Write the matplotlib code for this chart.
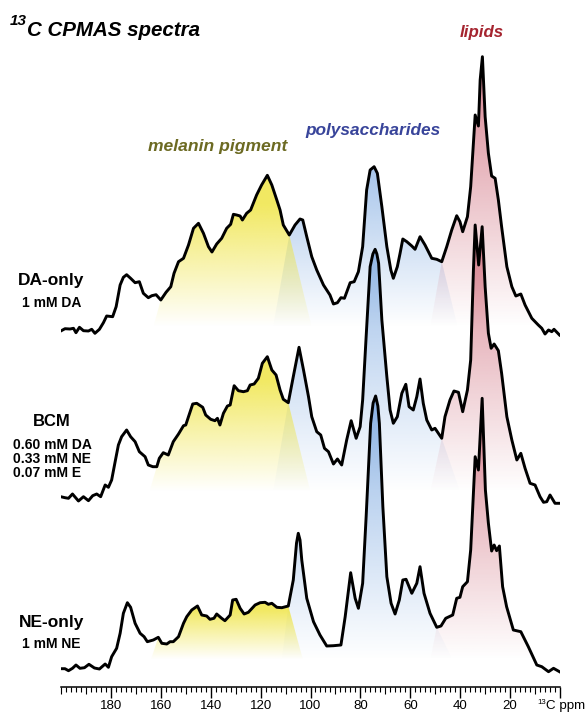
#!/usr/bin/env python3

import matplotlib as mpl
import matplotlib.pyplot as plt
import numpy as np
from matplotlib.patches import Polygon
from matplotlib.ticker import MultipleLocator

# chemical shift (ppm) and intensity
da_ppm = [200.1, 198.4, 196.4, 195.0, 194.0, 192.6, 191.0, 189.0, 187.7, 186.4, 184.6, 183.0, 181.7, 179.3, 177.9,
          176.3, 175.0, 173.7, 172.1, 170.3, 168.6, 167.0, 165.0, 163.6, 161.9, 160.0, 157.9, 156.0, 154.7, 152.9,
          150.9, 148.9, 146.9, 144.9, 142.9, 140.9, 139.5, 137.6, 135.6, 133.6, 132.0, 130.9, 129.6, 128.2, 127.3,
          125.6, 124.0, 121.6, 119.6, 117.3, 115.5, 113.5, 112.2, 110.9, 108.5, 106.2, 104.2, 103.1, 101.5, 99.5,
          97.5, 94.8, 92.2, 90.8, 89.2, 87.8, 86.4, 84.1, 82.5, 80.8, 79.1, 77.5, 76.1, 74.5, 73.2, 71.4, 69.4, 67.8,
          66.8, 65.2, 64.1, 63.0, 61.4, 59.4, 58.1, 56.1, 54.1, 51.4, 49.4, 47.4, 45.4, 43.4, 41.4, 40.1, 39.0, 37.1,
          35.8, 34.0, 32.7, 32.0, 31.1, 30.0, 28.7, 27.4, 26.0, 24.7, 23.4, 21.3, 19.3, 17.7, 15.7, 14.0, 11.3, 8.7,
          7.3, 6.0, 4.6, 3.3, 2.4, 0.2]
da_int = [4, 6.3, 6, 6.7, 2.3, 7.7, 4.3, 4, 5.7, 1.7, 5.7, 12.3, 19, 18.3, 28.3,
          50, 57.7, 60.3, 56.7, 52.3, 53.3, 41.7, 37.3, 39.3, 40.3, 35, 42.7, 48.3, 61.7, 73.3,
          76.7, 90, 106.7, 111.7, 101.7, 88.3, 83, 91, 96.7, 106.7, 110.7, 120.7, 120, 119, 115,
          121.7, 125, 140, 150, 159.7, 150, 135, 125, 110, 100, 110, 116, 115, 98.3, 78.3,
          65, 50, 40, 31, 32.3, 37.3, 36.7, 52.3, 53.3, 63.3, 88.3, 145, 165, 168.3, 161.7, 128.3, 88.3, 65,
          56.7, 68.3, 81.7, 96, 93.3, 89, 85.7, 98.3, 90, 76.7, 75.7, 73.3, 88.3, 105, 119.3, 113.3, 103.3, 118.3,
          148.3, 220, 209, 255, 278.3, 218.3, 181.7, 159, 156.7, 135, 108.3, 68.3, 48.3, 39, 41, 30, 16.7, 10,
          6.7, 1, 5, 3.3, 5.7, 0]

bcm_ppm = [200.1, 198.4, 197.0, 195.4, 193.0, 191.0, 189.0, 187.3, 185.7, 184.1, 182.3, 181.0, 179.7, 178.3, 177.0,
           175.7, 173.7, 172.1, 170.3, 168.6, 166.3, 165.0, 163.2, 161.6, 160.6, 159.0, 157.0, 155.0, 152.9, 150.9,
           150.0, 148.9, 147.2, 145.6, 143.2, 142.0, 140.0, 138.3, 137.3, 136.3, 134.9, 133.3, 132.2, 130.6, 128.9,
           126.9, 125.3, 124.2, 122.6, 120.9, 119.3, 117.3, 115.5, 113.8, 112.2, 110.9, 108.9, 106.9, 104.6, 102.8,
           100.8, 99.5, 97.5, 95.9, 94.4, 92.8, 90.8, 89.2, 87.5, 85.5, 83.7, 81.7, 80.1, 79.1, 77.7, 76.1, 75.0, 74.1,
           73.4, 72.7, 71.4, 69.4, 68.1, 66.8, 65.2, 63.4, 61.8, 60.5, 58.8, 57.4, 56.1, 54.8, 53.4, 51.4, 50.1, 47.4,
           46.1, 44.1, 42.5, 40.7, 39.0, 37.1, 35.8, 34.7, 34.0, 32.6, 31.2, 30.0, 28.7, 27.6, 26.4, 24.7, 23.4, 21.3,
           19.3, 17.3, 15.7, 14.0, 12.0, 10.0, 8.0, 6.6, 5.3, 4.0, 2.0, 0.2]
bcm_int = [-1.7, -2.7, -3.3, 1, -6, -1.7, -5.7, -0.7, 1, -1.7, 10, 7.7, 15, 33.3, 50,
           58.3, 65, 58.3, 53.3, 43.3, 38.3, 30, 28.3, 28.3, 36.7, 42.3, 40, 53.3, 61, 69.3,
           70, 78.3, 91, 91.7, 87.7, 80, 75.7, 74.3, 76.7, 70, 81.7, 89, 90, 109.3, 104.3,
           103.3, 104.3, 110, 111, 116.7, 131.7, 138.3, 125, 120, 105, 95.7, 92.3, 118.3, 147.7, 125,
           98.3, 78.3, 63.3, 60, 46.7, 43.3, 31, 36, 30, 55, 74.3, 56.7, 68.3, 95, 158.3, 228.3, 241, 245.7,
           241, 231.7, 175, 118.3, 85, 71.7, 78.3, 101.7, 110.7, 88.3, 85, 98.3, 116, 91.7, 75, 65, 66.7, 56.7,
           78.3, 95, 104, 102.7, 83.3, 105, 135, 225, 270, 230, 268.3, 208.3, 161.7, 146.7, 151, 144.3, 121.7, 78.3,
           55, 35, 41.7, 26.7, 11.7, 10, -1.7, -7.3, -6.7, 0, -8.3, -8.3]

ne_ppm = [200.1, 198.4, 197.0, 195.4, 194.0, 192.4, 190.6, 188.8, 186.6, 184.6, 182.3, 181.0, 179.7, 177.7, 176.3,
          175.0, 173.4, 172.1, 170.3, 168.3, 166.7, 165.4, 163.0, 161.0, 159.6, 157.6, 156.3, 155.0, 152.9, 150.9,
          149.6, 147.6, 145.3, 143.6, 141.6, 140.3, 138.7, 137.6, 135.6, 134.3, 132.2, 131.2, 129.8, 128.2, 126.6,
          124.9, 122.2, 120.2, 118.2, 116.9, 115.5, 113.5, 111.5, 108.9, 106.9, 105.6, 104.9, 104.2, 103.5, 101.5,
          98.8, 96.2, 93.5, 90.8, 87.8, 86.1, 83.9, 82.1, 80.8, 79.1, 77.7, 75.9, 74.9, 73.9, 73.0, 72.4, 71.0, 69.4,
          67.7, 66.1, 64.4, 63.0, 61.7, 59.4, 57.4, 56.1, 54.5, 52.1, 49.4, 47.7, 45.8, 43.0, 41.4, 40.1, 39.0, 37.1,
          35.8, 34.0, 32.7, 31.2, 29.9, 28.7, 27.4, 26.4, 25.4, 24.3, 23.0, 21.4, 18.7, 15.7, 12.7, 9.3, 7.3, 4.6,
          2.6, 0.2]
ne_int = [-0.7, -0.7, -2.7, -0.3, 3, -0.3, 0.3, 3.7, 0, -1, 4, 0.7, 11.3, 19.7, 34.7,
          54.7, 65.3, 60.7, 44.7, 34.7, 31.3, 26.3, 28, 30.7, 24.7, 24, 26.3, 26.3, 31.3, 44.7,
          51.3, 58, 62, 53, 52, 48.7, 49.7, 54, 49.7, 47.3, 53, 68, 68.7, 59.7, 54,
          55.7, 63, 65.3, 65.7, 63.7, 64.7, 60.7, 60.3, 62, 88, 125, 134.7, 128, 108, 69.7,
          46.3, 33, 22, 22.3, 23, 51.3, 95.3, 69.7, 59.7, 84.7, 151.3, 244.7, 265, 272, 262, 244.7, 161.3, 91.3,
          64.7, 54, 68, 88, 88.7, 74.7, 84.7, 101.3, 74.7, 54.7, 40.7, 42, 49.7, 53, 69.7, 70.7, 81.3, 86.3,
          118, 211.3, 198, 269.7, 178, 144.7, 117, 123, 117.3, 122, 81.3, 61.3, 38, 36.3, 21.3, 3, 1.3, -3.7,
          -0.3, -3.7]

da_bounds = [160.0, 108.5, 47.4]
bcm_bounds = [161.6, 108.9, 47.4]
ne_bounds = [161.0, 108.9, 49.4]
tick_ppm = [0, 20, 40, 60, 80, 100, 120, 140, 160, 180]
tick_text = ["", "20", "40", "60", "80", "100", "120", "140", "160", "180"]

W, H = 585, 713
AXIS_Y = 687
YELLOW, BLUE, RED = "#efe440", "#6c9edd", "#c4495c"


def shade(ax, ppm, inten, base, left, right, foot_left, foot_right, floor, top, colour, strength, power=1.0):
    # a vertical fade, cut to the area under one stretch of the trace
    ppm = np.array(ppm)
    inten = np.array(inten)
    keep = (ppm <= left) & (ppm >= right)
    verts = list(zip(ppm[keep], inten[keep] + base))
    verts += [(foot_right, base + floor), (foot_left, base + floor)]
    patch = Polygon(verts, closed=True, transform=ax.transData, fc="none", ec="none")
    ax.add_patch(patch)

    height = np.linspace(290, floor, 300)[:, None]
    rgba = np.ones((300, 1, 4))
    rgba[..., :3] = mpl.colors.to_rgb(colour)
    rgba[..., 3:] = (np.clip((height - floor) / (top - floor), 0, 1) ** power * strength)[..., None]
    im = ax.imshow(rgba, extent=(max(left, foot_left) + 5, min(right, foot_right) - 5, base + floor, base + 290),
                   aspect="auto", interpolation="bilinear", zorder=1)
    im.set_clip_path(patch)


def label(x, y, s, **kw):
    kw.setdefault("family", "Liberation Sans")
    kw.setdefault("weight", "bold")
    kw.setdefault("va", "center")
    fig.text(x / W, 1 - y / H, s, **kw)


fig = plt.figure(figsize=(W / 100, H / 100), dpi=100)
ax = fig.add_axes([61 / W, (H - AXIS_Y) / H, 499 / W, AXIS_Y / H])
ax.patch.set_alpha(0)

spectra = [
    (da_ppm, da_int, 352, da_bounds, (99.5, 115.0, 41.0, 52.0), 8, 130, 200),
    (bcm_ppm, bcm_int, 192, bcm_bounds, (100.0, 115.0, 40.0, 52.0), 3, 115, 270),
    (ne_ppm, ne_int, 19, ne_bounds, (103.0, 111.5, 43.0, 52.0), 8, 58, 270),
]
for ppm, inten, base, (b0, b1, b2), (y_foot, b_foot, bl_foot, r_foot), floor, y_top, b_top in spectra:
    shade(ax, ppm, inten, base, b1, b2, b_foot, bl_foot, floor, b_top, BLUE, 0.72)
    shade(ax, ppm, inten, base, b0, b1, b0 + 3, y_foot, floor, y_top, YELLOW, 0.82)
    shade(ax, ppm, inten, base, b2, 5.0, r_foot, 5.0, floor, 280, RED, 0.68)

for ppm, inten, base, *_ in spectra:
    ax.plot(ppm, np.array(inten) + base, color="black", lw=2.1, solid_joinstyle="round", zorder=3)

ax.set_xlim(200, 0)
ax.set_ylim(0, AXIS_Y)
ax.yaxis.set_visible(False)
for side in ["left", "right", "top"]:
    ax.spines[side].set_visible(False)
ax.spines["bottom"].set_linewidth(1.1)
ax.set_xticks(tick_ppm, labels=tick_text, family="Liberation Sans")
ax.xaxis.set_minor_locator(MultipleLocator(2))
ax.tick_params(axis="x", which="major", length=8, width=1.0, pad=1.5, labelsize=9.5)
ax.tick_params(axis="x", which="minor", length=3.6, width=0.8)
for loc, tick in zip(ax.xaxis.get_minorticklocs(), ax.xaxis.get_minor_ticks()):
    if round(loc) % 10 == 0:
        tick.tick1line.set_markersize(5)

label(27, 30, "C CPMAS spectra", style="italic", size=14.8)
label(10, 21, "13", style="italic", size=11)
label(218, 146, "melanin pigment", style="italic", size=12.6, color="#6c6a22", ha="center")
label(373, 131, "polysaccharides", style="italic", size=12.4, color="#38449a", ha="center")
label(482, 33, "lipids", style="italic", size=12.2, color="#a5242f", ha="center")

label(18, 280, "DA-only", size=12.5)
label(22, 303, "1 mM DA", size=10)
label(33, 422, "BCM", size=12)
label(13, 445, "0.60 mM DA", size=10)
label(13, 459, "0.33 mM NE", size=10)
label(13, 473, "0.07 mM E", size=10)
label(19, 622, "NE-only", size=12.5)
label(22, 644, "1 mM NE", size=10)

label(537, 702, "13", size=5.6, weight="normal")
label(546, 706, "C ppm", size=9.6, weight="normal")

fig.savefig("out.png", dpi=100)
